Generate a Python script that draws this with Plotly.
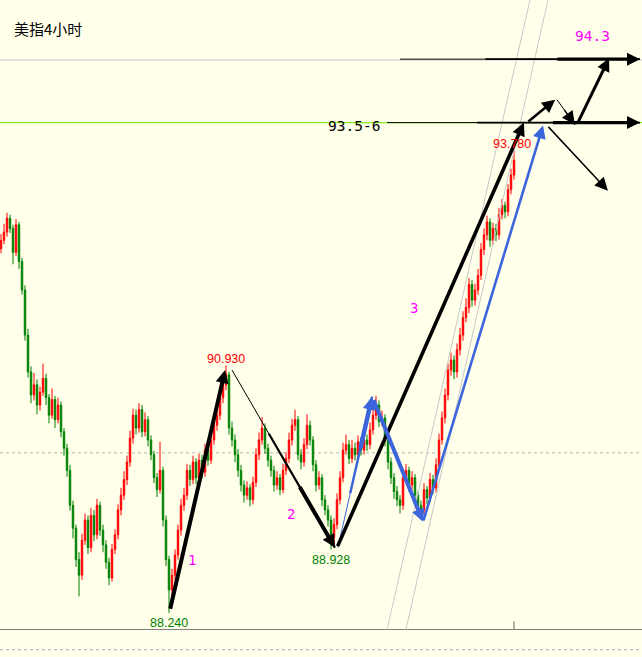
import plotly.graph_objects as go

# ---------------- data (4-hour USD index candles) ----------------
first_open = 92.20
closes = [92.29, 92.38, 92.53, 92.42, 92.16, 92.46, 92.06, 91.75, 91.26, 90.86,
          90.61, 90.72, 90.50, 90.64, 90.79, 90.58, 90.39, 90.56, 90.34, 90.50,
          90.21, 90.03, 89.79, 89.41, 89.16, 88.82, 88.65, 89.03, 89.25, 88.95,
          89.30, 89.09, 89.41, 89.14, 88.98, 88.79, 88.62, 88.93, 89.09, 89.36,
          89.52, 89.69, 89.88, 90.14, 90.39, 90.25, 90.45, 90.21, 90.34, 90.12,
          89.96, 89.71, 89.58, 89.79, 89.25, 88.82, 88.49, 88.65, 88.87, 89.14,
          89.41, 89.52, 89.79, 89.69, 89.88, 89.71, 89.90, 89.77, 90.01, 89.90,
          90.12, 90.28, 90.39, 90.58, 90.72, 90.83, 90.25, 90.12, 89.96, 89.79,
          89.63, 89.52, 89.60, 89.47, 89.66, 89.96, 90.12, 90.25, 90.03, 89.90,
          89.79, 89.63, 89.71, 89.58, 89.79, 89.92, 90.12, 90.28, 90.34, 89.96,
          89.88, 90.07, 90.28, 90.12, 89.85, 89.63, 89.71, 89.47, 89.36, 89.25,
          89.06, 89.20, 89.47, 89.71, 90.01, 90.07, 89.92, 90.03, 89.96, 90.10,
          90.01, 90.12, 90.07, 90.23, 90.39, 90.50, 90.32, 90.36, 90.12, 89.88,
          89.71, 89.56, 89.47, 89.41, 89.71, 89.79, 89.63, 89.71, 89.52, 89.41,
          89.36, 89.58, 89.49, 89.69, 89.60, 89.85, 90.12, 90.36, 90.61, 90.88,
          90.99, 90.86, 91.10, 91.26, 91.45, 91.56, 91.81, 91.64, 91.75, 91.91,
          92.19, 92.35, 92.49, 92.29, 92.42, 92.35, 92.57, 92.67, 92.60, 92.84,
          93.00, 93.16]
highs = [92.36, 92.47, 92.59, 92.57, 92.46, 92.52, 92.49, 92.10, 91.80, 91.33,
         90.92, 90.85, 90.78, 90.70, 90.95, 90.84, 90.62, 90.68, 90.60, 90.58,
         90.54, 90.25, 90.08, 89.85, 89.46, 89.20, 88.90, 89.10, 89.32, 89.30,
         89.38, 89.36, 89.48, 89.45, 89.20, 89.03, 88.84, 88.99, 89.15, 89.42,
         89.60, 89.78, 89.95, 90.22, 90.46, 90.45, 90.52, 90.50, 90.42, 90.38,
         90.17, 90.00, 89.76, 90.10, 89.83, 89.30, 88.86, 88.72, 88.93, 89.20,
         89.48, 89.60, 89.86, 89.85, 89.95, 89.92, 89.97, 89.96, 90.08, 90.06,
         90.19, 90.35, 90.46, 90.65, 90.80, 90.93, 90.86, 90.32, 90.18, 90.02,
         89.85, 89.68, 89.67, 89.64, 89.72, 90.03, 90.20, 90.37, 90.30, 90.08,
         89.95, 89.84, 89.78, 89.75, 89.86, 89.99, 90.20, 90.35, 90.45, 90.38,
         90.02, 90.14, 90.40, 90.33, 90.16, 89.90, 89.78, 89.75, 89.52, 89.41,
         89.30, 89.27, 89.54, 89.78, 90.09, 90.18, 90.12, 90.12, 90.09, 90.17,
         90.15, 90.20, 90.18, 90.31, 90.47, 90.60, 90.55, 90.44, 90.40, 90.16,
         89.93, 89.76, 89.62, 89.52, 89.78, 89.86, 89.83, 89.78, 89.75, 89.56,
         89.46, 89.65, 89.62, 89.76, 89.74, 89.92, 90.19, 90.43, 90.68, 90.95,
         91.07, 91.04, 91.17, 91.34, 91.52, 91.66, 91.88, 91.86, 91.82, 91.98,
         92.26, 92.42, 92.56, 92.53, 92.48, 92.47, 92.64, 92.74, 92.71, 92.90,
         93.07, 93.27]
lows = [92.15, 92.25, 92.33, 92.37, 92.03, 92.12, 91.98, 91.70, 91.20, 90.80,
        90.52, 90.55, 90.40, 90.44, 90.60, 90.50, 90.30, 90.35, 90.25, 90.30,
        90.15, 89.95, 89.72, 89.35, 89.05, 88.74, 88.42, 88.60, 88.98, 88.88,
        88.90, 89.02, 89.04, 89.08, 88.90, 88.72, 88.54, 88.58, 88.88, 89.04,
        89.30, 89.47, 89.63, 89.83, 90.08, 90.18, 90.20, 90.15, 90.16, 90.05,
        89.90, 89.65, 89.50, 89.54, 89.18, 88.75, 88.24, 88.40, 88.60, 88.82,
        89.08, 89.35, 89.47, 89.62, 89.64, 89.64, 89.66, 89.70, 89.72, 89.84,
        89.86, 90.07, 90.22, 90.34, 90.52, 90.66, 90.18, 90.05, 89.88, 89.72,
        89.56, 89.44, 89.47, 89.40, 89.42, 89.61, 89.90, 90.07, 89.97, 89.83,
        89.72, 89.56, 89.58, 89.52, 89.54, 89.74, 89.87, 90.06, 90.22, 89.90,
        89.80, 89.83, 90.02, 90.06, 89.78, 89.56, 89.58, 89.40, 89.30, 89.18,
        88.93, 89.00, 89.15, 89.42, 89.66, 89.96, 89.86, 89.87, 89.90, 89.91,
        89.95, 89.96, 90.00, 90.02, 90.18, 90.34, 90.26, 90.27, 90.05, 89.80,
        89.64, 89.48, 89.40, 89.32, 89.36, 89.66, 89.56, 89.58, 89.45, 89.34,
        89.28, 89.31, 89.42, 89.44, 89.53, 89.55, 89.80, 90.07, 90.30, 90.55,
        90.82, 90.78, 90.80, 91.04, 91.20, 91.40, 91.50, 91.57, 91.58, 91.70,
        91.86, 92.13, 92.29, 92.22, 92.24, 92.28, 92.30, 92.52, 92.53, 92.55,
        92.79, 92.95]
opens = [first_open] + closes[:-1]
bars = list(range(len(closes)))

title_text = "美指4小时"
# key price labels: (text, bar, price, colour)
price_labels = [("88.240", 56, 88.13, "#008000"),
                ("90.930", 75, 91.00, "#FF0000"),
                ("88.928", 110, 88.82, "#008000"),
                ("93.780", 170.3, 93.34, "#FF0000")]
wave_labels = [("1", 63.7, 88.82), ("2", 96.7, 89.32), ("3", 137.7, 91.55)]
target_labels = [("94.3", 197, 94.51, "#FF00FF"), ("93.5-6", 117.7, 93.53, "#000000")]

# reference levels
level_top = 94.25
level_mid = 93.57
level_dotted = 89.98
level_base = 88.06
level_sub = 87.84

# analyst arrows: (tail bar, tail price, tip bar, tip price, width, colour, taper)
arrows = [
    (56.3, 88.27, 74.7, 90.88, 4.0, "#000000", False),
    (77.0, 90.88, 111.3, 88.95, 4.0, "#000000", True),
    (112.0, 88.95, 174.3, 93.57, 3.6, "#000000", False),
    (112.3, 88.95, 123.7, 90.59, 4.5, "#3C64DC", True),
    (124.0, 90.57, 140.7, 89.23, 4.0, "#3C64DC", False),
    (140.7, 89.23, 180.7, 93.54, 2.6, "#3C64DC", False),
    (128.7, 93.57, 213.0, 93.57, 3.2, "#000000", True),
    (133.0, 94.26, 213.0, 94.26, 3.2, "#000000", True),
    (175.3, 93.57, 184.7, 93.82, 2.6, "#000000", False),
    (185.3, 93.82, 191.3, 93.55, 2.6, "#000000", True),
    (192.0, 93.55, 202.7, 94.27, 3.0, "#000000", False),
    (182.0, 93.54, 202.3, 92.83, 1.5, "#000000", False),
]
# parallel channel lines: (bar0, price0, bar1, price1)
channel = [(128.7, 88.06, 176.3, 94.90), (135.0, 88.06, 182.3, 94.90)]

BG = "#FFFFEA"

fig = go.Figure()
fig.add_trace(go.Candlestick(
    x=bars, open=opens, high=highs, low=lows, close=closes,
    increasing=dict(line=dict(color="#FF0000", width=1), fillcolor="#FF0000"),
    decreasing=dict(line=dict(color="#008000", width=1), fillcolor="#008000"),
    whiskerwidth=0, hoverinfo="skip", showlegend=False))

shapes = []
shapes.append(dict(type="line", xref="paper", x0=0, x1=1, yref="y", y0=level_top, y1=level_top,
                   line=dict(color="#C8C8C8", width=1), layer="below"))
shapes.append(dict(type="line", xref="paper", x0=0, x1=1, yref="y", y0=level_mid, y1=level_mid,
                   line=dict(color="#88EE22", width=1.2), layer="below"))
shapes.append(dict(type="line", xref="paper", x0=0, x1=1, yref="y", y0=level_dotted, y1=level_dotted,
                   line=dict(color="#B4B4B4", width=1, dash="dot"), layer="below"))
shapes.append(dict(type="line", xref="paper", x0=0, x1=1, yref="y", y0=level_base, y1=level_base,
                   line=dict(color="#808080", width=1.2)))
shapes.append(dict(type="line", xref="paper", x0=0, x1=1, yref="y", y0=level_sub, y1=level_sub,
                   line=dict(color="#A8A8C8", width=1, dash="dot")))
shapes.append(dict(type="line", xref="x", x0=bars[-1], x1=bars[-1], yref="y", y0=level_base, y1=88.15,
                   line=dict(color="#808080", width=1.2)))
for b0, p0, b1, p1 in channel:
    shapes.append(dict(type="line", xref="x", yref="y", x0=b0, y0=p0, x1=b1, y1=p1,
                       line=dict(color="#C8C8C8", width=1)))

annotations = []
for b0, p0, b1, p1, w, col, taper in arrows:
    hs = 13.0 / (5.0 * w)
    if taper:
        shapes.append(dict(type="line", xref="x", yref="y", x0=b0, y0=p0, x1=b1, y1=p1,
                           line=dict(color=col, width=1)))
        for frac, ww in ((0.35, w * 0.55), (0.65, w)):
            mb = b0 + (b1 - b0) * frac
            mp = p0 + (p1 - p0) * frac
            annotations.append(dict(x=b1, y=p1, ax=mb, ay=mp, xref="x", yref="y", axref="x", ayref="y",
                                    text="", showarrow=True, arrowhead=2 if ww == w else 0,
                                    arrowsize=13.0 / (5.0 * ww), arrowwidth=ww, arrowcolor=col))
    else:
        annotations.append(dict(x=b1, y=p1, ax=b0, ay=p0, xref="x", yref="y", axref="x", ayref="y",
                                text="", showarrow=True, arrowhead=2, arrowsize=hs,
                                arrowwidth=w, arrowcolor=col))

for t, b, p, col in price_labels:
    annotations.append(dict(x=b, y=p, xref="x", yref="y", text=t, showarrow=False,
                            font=dict(family="Liberation Sans", size=12.5, color=col)))
for t, b, p in wave_labels:
    annotations.append(dict(x=b, y=p, xref="x", yref="y", text=t, showarrow=False,
                            font=dict(family="DejaVu Sans Mono", size=14, color="#FF00FF")))
for t, b, p, col in target_labels:
    annotations.append(dict(x=b, y=p, xref="x", yref="y", text=t, showarrow=False,
                            font=dict(family="DejaVu Sans Mono", size=14.5, color=col)))
annotations.append(dict(x=12 / 642, y=1 - 28 / 657, xref="paper", yref="paper", xanchor="left",
                        yanchor="middle", text=title_text, showarrow=False,
                        font=dict(family="Noto Sans CJK SC", size=15, color="#000000")))

fig.update_layout(
    width=642, height=657, margin=dict(l=0, r=0, t=0, b=0),
    paper_bgcolor=BG, plot_bgcolor=BG, showlegend=False,
    xaxis=dict(range=[-1 / 3, 641 / 3], visible=False, rangeslider=dict(visible=False), fixedrange=True),
    yaxis=dict(range=[87.761, 94.903], visible=False, fixedrange=True),
    shapes=shapes, annotations=annotations,
)
page_js = ("document.body.style.margin='0px';document.body.style.padding='0px';"
           "document.body.style.overflow='hidden';document.body.style.background='" + BG + "';")
fig.write_html("out.html", config={"displayModeBar": False}, post_script=page_js)
